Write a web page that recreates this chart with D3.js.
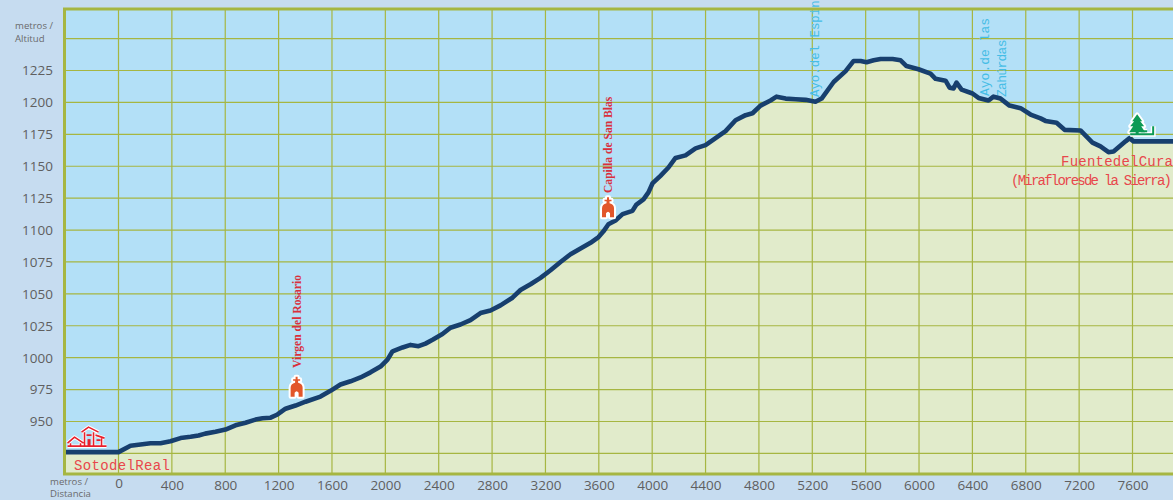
<!DOCTYPE html>
<html><head><meta charset="utf-8">
<script src="https://cdnjs.cloudflare.com/ajax/libs/d3/7.8.5/d3.min.js"></script>
<style>html,body{margin:0;padding:0;background:#c6dcf0;overflow:hidden}svg{display:block}</style>
</head><body><svg id="c" width="1173" height="500"></svg>
<script>
const distances=[-397,0,90,165,240,315,390,465,540,600,650,727,802,877,952,1027,1080,1140,1192,1252,1327,1402,1514,1589,1664,1739,1814,1889,1964,2016,2054,2129,2189,2249,2301,2354,2428,2488,2563,2638,2713,2788,2863,2953,3013,3088,3163,3238,3313,3388,3463,3538,3598,3635,3672,3725,3778,3852,3882,3935,3972,4002,4062,4122,4175,4250,4325,4400,4475,4550,4625,4700,4752,4812,4887,4932,5000,5075,5150,5224,5270,5360,5450,5510,5562,5607,5660,5712,5802,5862,5906,5996,6086,6124,6199,6229,6259,6281,6319,6401,6446,6521,6558,6611,6678,6761,6836,6911,6948,7031,7091,7210,7300,7360,7420,7458,7548,7578,7608,7910];
const elevations=[926,926,931,932,933,933,934.5,937,938,939,940.5,942,943.7,947,949,951.5,952.5,953,955.5,960,962.5,965.5,969.5,974,979,981.5,984.5,988.5,993,998.5,1005,1008,1010,1009,1011,1014,1018.5,1023.5,1026,1029.5,1035,1037,1041,1047,1053,1057.5,1062.5,1068.5,1075,1081,1085.5,1090,1094.5,1099,1104.5,1107.5,1112.5,1115,1120,1124,1129.5,1136.5,1142.5,1149,1156.5,1158.5,1164,1166.5,1172,1177.5,1186,1190,1191.5,1197.5,1201.5,1204.5,1203,1202.5,1202,1200.5,1203,1216,1224.5,1232.5,1232.5,1231.5,1233,1234,1234,1233,1228.5,1226,1222.5,1218.5,1217,1211.5,1211,1215.5,1210,1207,1203.5,1201.5,1204.5,1203,1197.5,1195.5,1190.5,1187.5,1185.5,1184,1178.5,1178,1168.5,1165.5,1161,1161.5,1169.5,1172,1169.5,1169.5];
const xTicks=[0,400,800,1200,1600,2000,2400,2800,3200,3600,4000,4400,4800,5200,5600,6000,6400,6800,7200,7600];
const yLabelTicks=[950,975,1000,1025,1050,1075,1100,1125,1150,1175,1200,1225];
const yGridTicks=[925,950,975,1000,1025,1050,1075,1100,1125,1150,1175,1200,1225,1250];
const chapels=[{name:"Virgen del Rosario",d:1335,e:976.5,top:368},{name:"Capilla de San Blas",d:3669,e:1117,top:193}];
const streams=[{name:"Ayo.del Espin",d:5218,top:97,size:12.4,ls:0},{name:"Ayo.de las",d:6497,top:96,size:13,ls:0},{name:"Zahúrdas",d:6620,top:97,size:13,ls:-0.7}];

const svg=d3.select("#c");
const x=d3.scaleLinear().domain([0,7600]).range([118.5,1132.5]);
const y=d3.scaleLinear().domain([950,1225]).range([421.5,70.5]);
const L=65,R=1173,T=10,B=474;
const pts=distances.map((d,i)=>[d,elevations[i]]);
const grid="#a6b642";

svg.append("rect").attr("x",L).attr("y",T).attr("width",R-L).attr("height",B-T).attr("fill","#b3e0f7");
svg.append("path").datum(pts).attr("fill","#e1ebcb")
  .attr("d",d3.area().x(d=>x(d[0])).y0(B).y1(d=>y(d[1])));
const g=svg.append("g");
g.selectAll(".v").data(xTicks).join("line").attr("x1",d=>x(d)).attr("x2",d=>x(d)).attr("y1",T).attr("y2",B)
  .attr("stroke",grid).attr("stroke-width",1.2);
g.selectAll(".h").data(yGridTicks).join("line").attr("x1",L).attr("x2",R).attr("y1",d=>y(d)).attr("y2",d=>y(d))
  .attr("stroke",grid).attr("stroke-width",1.2);

streams.forEach(s=>{
  svg.append("text").attr("transform",`translate(${x(s.d)},${s.top}) rotate(-90)`)
   .attr("font-family","Liberation Mono").attr("font-size",s.size).attr("fill","#45bde6")
   .attr("letter-spacing",s.ls).attr("dy",4).text(s.name);
});

svg.append("path").datum(pts).attr("fill","none").attr("stroke","#173f6e").attr("stroke-width",4.6)
  .attr("stroke-linejoin","round").attr("d",d3.line().x(d=>x(d[0])).y(d=>y(d[1])));

svg.append("path").attr("d",`M${L-0.5},${B+1}V${T-1}H${R}M${L-2},${B}H${R}`).attr("fill","none").attr("stroke",grid).attr("stroke-width",3);

const font="'Open Sans','Noto Sans',sans-serif";
const ax=svg.append("g").attr("transform",`translate(0,${B})`).call(d3.axisBottom(x).tickValues(xTicks).tickSize(0).tickFormat(d3.format("d")).tickPadding(6));
const ay=svg.append("g").attr("transform","translate(53,0)").call(d3.axisLeft(y).tickValues(yLabelTicks).tickSize(0).tickFormat(d3.format("d")).tickPadding(0));
[ax,ay].forEach(a=>{a.select(".domain").remove();a.selectAll("text").attr("font-family",font).attr("font-size",13.5).attr("fill","#5f5f60");});
ax.selectAll("text").filter(d=>d===0).attr("y",4);
const small=(t,xx,yy)=>svg.append("text").attr("x",xx).attr("y",yy).attr("font-family",font).attr("font-size",9.6).attr("fill","#6a6a6c").text(t);
small("metros /",15,29);small("Altitud",15,42);small("metros /",50,484.5);small("Distancia",50,497);

const red="#d92f3c";
chapels.forEach(c=>{
  const cx=x(c.d),cy=y(c.e);
  const gg=svg.append("g").attr("transform",`translate(${cx},${cy})`);
  const shape="M-6,9V0Q-6,-4 -1.5,-5V-7H-3.5V-8.5H-1V-11H1V-8.5H3.5V-7H1.5V-5Q6,-4 6,0V9H2V5Q0,2 -2,5V9Z";
  gg.append("path").attr("d",shape).attr("fill","#fff").attr("stroke","#fff").attr("stroke-width",4).attr("stroke-linejoin","round");
  gg.append("path").attr("d",shape).attr("fill","#e2562a");
  svg.append("text").attr("transform",`translate(${cx},${c.top}) rotate(-90)`)
   .attr("font-family","Liberation Serif").attr("font-weight","bold").attr("font-size",11.6).attr("fill",red).attr("dy",4).text(c.name);
});

const housePath="M2,-9L9,-15L18,-9M5,-9V-6M15,-9V-6M2,-6H41M16,-20L23,-25L33,-20M19,-20V-6M28,-20V-6M30,-17L39,-14M36,-14V-6";
const hg=svg.append("g").attr("transform",`translate(${x(-397)},${y(926)})`).attr("fill","none").attr("stroke-linejoin","round");
hg.append("path").attr("d",housePath).attr("stroke","#fff").attr("stroke-width",3.5);
hg.append("path").attr("d",housePath).attr("stroke","#e8202c").attr("stroke-width",1.6);
hg.append("rect").attr("x",22).attr("y",-13).attr("width",3).attr("height",7).attr("fill","#e8202c");
hg.append("path").attr("d","M21,-17H26M31,-12H35").attr("stroke","#e8202c").attr("stroke-width",1.6);

const tg=svg.append("g").attr("transform",`translate(${x(7635)},${y(1169.5)})`);
const tree="M0,-27L5,-20H3L7,-15H4L8,-9H1.5V-7H-1.5V-9H-8L-4,-15H-7L-3,-20H-5Z";
const fence="M-7,-7H16V-15M4,-10H10";
tg.append("path").attr("d",tree).attr("fill","#fff").attr("stroke","#fff").attr("stroke-width",4).attr("stroke-linejoin","round");
tg.append("path").attr("d",fence).attr("fill","none").attr("stroke","#fff").attr("stroke-width",5);
tg.append("path").attr("d",tree).attr("fill","#0d9a55");
tg.append("path").attr("d",fence).attr("fill","none").attr("stroke","#0d9a55").attr("stroke-width",2);

const place=(t,xx,yy,len)=>svg.append("text").attr("x",xx).attr("y",yy).attr("font-family","Liberation Mono").attr("font-size",14)
  .attr("fill","#e8474c").attr("textLength",len).attr("lengthAdjust","spacing").text(t);
place("SotodelReal",74,470,96);
place("FuentedelCura",1061,166,112);
place("(Mirafloresde la Sierra)",1011,185,161);
</script></body></html>
